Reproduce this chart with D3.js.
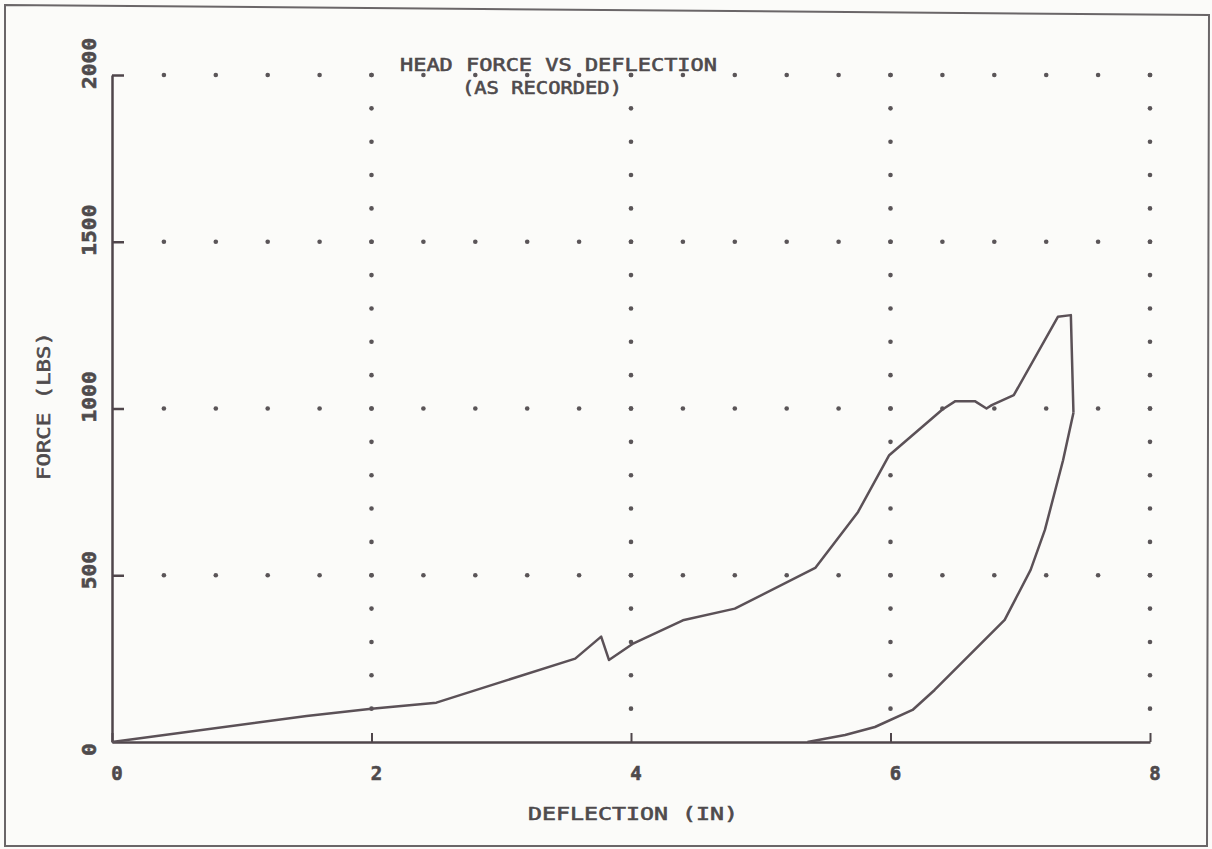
<!DOCTYPE html>
<html>
<head>
<meta charset="utf-8">
<script src="https://cdn.jsdelivr.net/npm/d3@7"></script>
<style>
  html, body { margin: 0; padding: 0; background: #fbfbf9; }
  svg { display: block; }
  text { font-family: "DejaVu Sans Mono", "Liberation Mono", monospace; fill: #4e4a4c; stroke: #4e4a4c; stroke-width: 0.6; }
</style>
</head>
<body>
<svg id="chart" width="1212" height="849"></svg>
<script>
// Head force vs deflection, as recorded
const loadDefl  = [0, 1.5, 2.0, 2.5, 3.57, 3.77, 3.83, 4.02, 4.4, 4.8, 5.42, 5.75, 5.99, 6.4, 6.5, 6.65, 6.74, 6.78, 6.95, 7.29, 7.39, 7.41];
const loadForce = [0, 78, 100, 118, 250, 316, 246, 296, 365, 400, 522, 690, 860, 997, 1022, 1022, 1000, 1010, 1040, 1275, 1280, 987];
const unloadDefl  = [7.41, 7.33, 7.19, 7.08, 6.88, 6.61, 6.34, 6.17, 5.88, 5.65, 5.36];
const unloadForce = [987, 845, 636, 516, 366, 261, 156, 96, 45, 21, 0];

const xTicks = [0, 2, 4, 6, 8];
const yTicks = [0, 500, 1000, 1500, 2000];
const titleLines = ["HEAD FORCE VS DEFLECTION", "(AS RECORDED)"];
const xTitle = "DEFLECTION (IN)";
const yTitle = "FORCE (LBS)";

const svg = d3.select("#chart");
const ink = "#4f464b";

const x = d3.scaleLinear().domain([0, 8]).range([112, 1150]);
const y = d3.scaleLinear().domain([0, 2000]).range([742, 75]);

// page frame
svg.append("path")
  .attr("d", "M5,5 L1209,15 L1207,846 L5,846 Z")
  .attr("fill", "none").attr("stroke", "#6a6668").attr("stroke-width", 2);

// dotted grid: rows every 500 lbs, columns every 2 in
const rowDots = [];
[500, 1000, 1500, 2000].forEach(f => {
  for (let i = 1; i <= 20; i++) rowDots.push([i * 0.4, f]);
});
const colDots = [];
[2, 4, 6, 8].forEach(d => {
  for (let j = 1; j <= 20; j++) colDots.push([d, j * 100]);
});
svg.append("g").selectAll("circle")
  .data(rowDots.concat(colDots))
  .join("circle")
  .attr("cx", d => x(d[0])).attr("cy", d => y(d[1]))
  .attr("r", 2.3).attr("fill", "#5a5558");

// axes
const xAxis = d3.axisBottom(x).tickValues(xTicks).tickSizeInner(-9).tickSizeOuter(0).tickFormat("");
const gx = svg.append("g").attr("transform", `translate(0,${y(0)})`).call(xAxis);
gx.select(".domain").attr("stroke", ink).attr("stroke-width", 2.5);
gx.selectAll(".tick line").attr("stroke", ink).attr("stroke-width", 2);

const yAxis = d3.axisLeft(y).tickValues(yTicks.slice(1)).tickSizeInner(-12).tickSizeOuter(0).tickFormat("");
const gy = svg.append("g").attr("transform", `translate(${x(0)},0)`).call(yAxis);
gy.select(".domain").attr("stroke", ink).attr("stroke-width", 2.5);
gy.selectAll(".tick line").attr("stroke", ink).attr("stroke-width", 2.5);

// tick labels
svg.append("g").selectAll("text")
  .data(xTicks).join("text")
  .attr("x", d => x(d) + 5).attr("y", 780)
  .attr("text-anchor", "middle")
  .attr("font-size", 19).attr("font-weight", "bold")
  .text(d => d);

svg.append("g").selectAll("text")
  .data(yTicks).join("text")
  .attr("transform", d => `translate(96,${y(d) + 14}) rotate(-90)`)
  .attr("text-anchor", "start")
  .attr("font-size", 19).attr("font-weight", "bold")
  .attr("textLength", d => String(d).length * 12.8)
  .attr("lengthAdjust", "spacingAndGlyphs")
  .text(d => d);

// titles
svg.append("text")
  .attr("x", 400).attr("y", 71)
  .attr("font-size", 18)
  .attr("textLength", 317).attr("lengthAdjust", "spacingAndGlyphs")
  .text(titleLines[0]);
svg.append("text")
  .attr("x", 462).attr("y", 94)
  .attr("font-size", 18)
  .attr("textLength", 160).attr("lengthAdjust", "spacingAndGlyphs")
  .text(titleLines[1]);

svg.append("text")
  .attr("x", 528).attr("y", 820)
  .attr("font-size", 18)
  .attr("textLength", 210).attr("lengthAdjust", "spacingAndGlyphs")
  .text(xTitle);

svg.append("text")
  .attr("transform", "translate(50,480) rotate(-90)")
  .attr("font-size", 18)
  .attr("textLength", 148).attr("lengthAdjust", "spacingAndGlyphs")
  .text(yTitle);

// force–deflection trace
const line = d3.line().x(d => x(d[0])).y(d => y(d[1]));
const loading = loadDefl.map((d, i) => [d, loadForce[i]]);
const unloading = unloadDefl.map((d, i) => [d, unloadForce[i]]);

svg.append("path").datum(loading)
  .attr("d", line).attr("fill", "none")
  .attr("stroke", "#5b5157").attr("stroke-width", 2.5)
  .attr("stroke-linejoin", "round");
svg.append("path").datum(unloading)
  .attr("d", line).attr("fill", "none")
  .attr("stroke", "#5b5157").attr("stroke-width", 2.5)
  .attr("stroke-linejoin", "round");
</script>
</body>
</html>
